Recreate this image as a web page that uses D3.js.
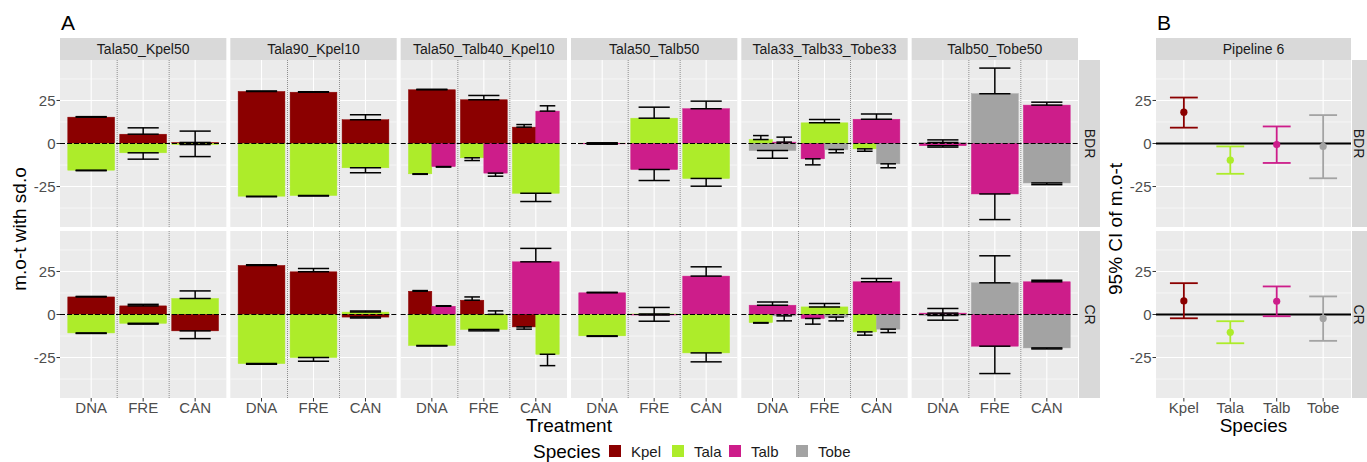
<!DOCTYPE html>
<html>
<head>
<meta charset="utf-8">
<script src="https://cdn.jsdelivr.net/npm/d3@7"></script>
<style>
body { margin: 0; background: #fff; }
text { font-family: "Liberation Sans", Arial, sans-serif; }
</style>
</head>
<body>
<script>
var facets = ["Tala50_Kpel50","Tala90_Kpel10","Tala50_Talb40_Kpel10","Tala50_Talb50","Tala33_Talb33_Tobe33","Talb50_Tobe50"];
var treatments = ["DNA","FRE","CAN"];
var regions = ["BDR","CR"];
var species = ["Kpel","Tala","Talb","Tobe"];
var yTicks = [-25, 0, 25];

// rows: region, treatment, species, mean, sd, dodge (0 alone, 1 first, 2 second)
var tala50Kpel50 = [
 ["BDR","DNA","Kpel",15.3,0.3,0], ["BDR","DNA","Tala",-15.5,0.3,0],
 ["BDR","FRE","Kpel",5.4,3.7,0],  ["BDR","FRE","Tala",-5.4,3.7,0],
 ["BDR","CAN","Kpel",0.6,6.6,0],  ["BDR","CAN","Tala",-0.6,7.0,0],
 ["CR","DNA","Kpel",10.2,0.3,0],  ["CR","DNA","Tala",-10.7,0.3,0],
 ["CR","FRE","Kpel",5.0,0.9,0],   ["CR","FRE","Tala",-5.1,0.5,0],
 ["CR","CAN","Tala",9.3,4.4,0],   ["CR","CAN","Kpel",-9.5,4.5,0]
];
var tala90Kpel10 = [
 ["BDR","DNA","Kpel",30.2,0.3,0], ["BDR","DNA","Tala",-30.6,0.3,0],
 ["BDR","FRE","Kpel",29.8,0.3,0], ["BDR","FRE","Tala",-30.2,0.3,0],
 ["BDR","CAN","Kpel",13.8,2.9,0], ["BDR","CAN","Tala",-14.1,2.9,0],
 ["CR","DNA","Kpel",28.5,0.4,0],  ["CR","DNA","Tala",-28.5,0.4,0],
 ["CR","FRE","Kpel",24.8,1.9,0],  ["CR","FRE","Tala",-25.0,2.1,0],
 ["CR","CAN","Tala",1.4,0.7,0],   ["CR","CAN","Kpel",-1.5,0.5,0]
];
var tala50Talb40Kpel10 = [
 ["BDR","DNA","Kpel",31.2,0.3,0], ["BDR","DNA","Tala",-17.6,0.3,1], ["BDR","DNA","Talb",-13.4,0.3,2],
 ["BDR","FRE","Kpel",25.4,2.5,0], ["BDR","FRE","Tala",-8.3,1.6,1],  ["BDR","FRE","Talb",-17.2,1.8,2],
 ["BDR","CAN","Kpel",9.5,1.5,1],  ["BDR","CAN","Talb",18.8,3.1,2],  ["BDR","CAN","Tala",-28.9,4.8,0],
 ["CR","DNA","Kpel",13.5,0.4,1],  ["CR","DNA","Talb",4.8,0.3,2],    ["CR","DNA","Tala",-18.0,0.3,0],
 ["CR","FRE","Kpel",8.3,1.9,1],   ["CR","FRE","Talb",0.1,2.0,2],    ["CR","FRE","Tala",-8.7,0.8,0],
 ["CR","CAN","Talb",30.6,7.8,0],  ["CR","CAN","Kpel",-7.2,1.3,1],   ["CR","CAN","Tala",-23.1,6.6,2]
];
var tala50Talb50 = [
 ["BDR","DNA","Tala",0.2,0.2,0],  ["BDR","DNA","Talb",-0.2,0.2,0],
 ["BDR","FRE","Tala",14.7,6.4,0], ["BDR","FRE","Talb",-15.1,6.4,0],
 ["BDR","CAN","Talb",20.2,4.4,0], ["BDR","CAN","Tala",-20.3,4.5,0],
 ["CR","DNA","Talb",12.6,0.3,0],  ["CR","DNA","Tala",-12.4,0.3,0],
 ["CR","FRE","Tala",0.3,3.8,0],   ["CR","FRE","Talb",-0.3,3.6,0],
 ["CR","CAN","Talb",22.3,5.4,0],  ["CR","CAN","Tala",-22.3,5.2,0]
];
var tala33Talb33Tobe33 = [
 ["BDR","DNA","Tala",2.3,2.3,1],  ["BDR","DNA","Talb",0.8,2.9,2],   ["BDR","DNA","Tobe",-4.1,4.4,0],
 ["BDR","FRE","Tala",12.0,1.9,0], ["BDR","FRE","Talb",-8.9,3.5,1],  ["BDR","FRE","Tobe",-3.5,1.9,2],
 ["BDR","CAN","Talb",14.1,3.1,0], ["BDR","CAN","Tala",-3.1,1.4,1],  ["BDR","CAN","Tobe",-11.8,2.3,2],
 ["CR","DNA","Talb",5.4,1.9,0],   ["CR","DNA","Tala",-4.7,0.3,1],   ["CR","DNA","Tobe",-0.8,2.9,2],
 ["CR","FRE","Tala",4.4,2.0,0],   ["CR","FRE","Talb",-2.3,3.3,1],   ["CR","FRE","Tobe",-1.5,2.2,2],
 ["CR","CAN","Talb",19.0,1.9,0],  ["CR","CAN","Tala",-10.1,1.9,1],  ["CR","CAN","Tobe",-8.5,2.0,2]
];
var talb50Tobe50 = [
 ["BDR","DNA","Tobe",0.6,1.5,0],  ["BDR","DNA","Talb",-1.3,0.8,0],
 ["BDR","FRE","Tobe",28.9,14.9,0],["BDR","FRE","Talb",-29.3,14.9,0],
 ["BDR","CAN","Talb",22.3,1.7,0], ["BDR","CAN","Tobe",-22.9,1.0,0],
 ["CR","DNA","Talb",0.8,2.7,0],   ["CR","DNA","Tobe",-0.6,2.7,0],
 ["CR","FRE","Tobe",18.4,15.7,0], ["CR","FRE","Talb",-18.4,15.9,0],
 ["CR","CAN","Talb",19.0,0.9,0],  ["CR","CAN","Tobe",-19.4,0.6,0]
];
var facetData = [tala50Kpel50, tala90Kpel10, tala50Talb40Kpel10, tala50Talb50, tala33Talb33Tobe33, talb50Tobe50];

// panel B: 95% CI per species
var ciMeanBDR = [18.2, -9.7, -0.6, -1.7];
var ciLowBDR  = [9.2, -17.6, -11.3, -20.2];
var ciHighBDR = [26.7, -1.7, 9.9, 16.5];
var ciMeanCR  = [7.9, -10.3, 7.7, -2.3];
var ciLowCR   = [-2.2, -16.7, -1.0, -15.3];
var ciHighCR  = [18.2, -3.9, 16.3, 10.5];

var color = d3.scaleOrdinal().domain(species).range(["#8b0000","#adec2a","#cd1d8a","#a3a3a3"]);

var svg = d3.select("body").append("svg")
	.attr("width", 1367)
	.attr("height", 462);

var fx = d3.scaleBand().domain(facets).range([60, 1078]).paddingInner(0.0235);
var fy = d3.scaleBand().domain(regions).range([60, 398]).paddingInner(0.0234);
var tx = d3.scaleLinear().domain([0.4, 3.6]).range([0, fx.bandwidth()]);
function yScale(r) {
	return d3.scaleLinear().domain([-48.5, 48.5]).range([fy(r) + fy.bandwidth(), fy(r)]);
}
var minorTicks = [-37.5, -12.5, 12.5, 37.5];

function panelBg(g, w, xs, y) {
	g.append("rect").attr("width", w).attr("height", fy.bandwidth()).attr("y", y.range()[1]).attr("fill", "#ebebeb");
	g.selectAll("line.minor").data(minorTicks).enter().append("line")
		.attr("x1", 0).attr("x2", w)
		.attr("y1", function(d) { return y(d); }).attr("y2", function(d) { return y(d); })
		.attr("stroke", "#fff").attr("stroke-width", 0.6);
	g.selectAll("line.major").data(yTicks).enter().append("line")
		.attr("x1", 0).attr("x2", w)
		.attr("y1", function(d) { return y(d); }).attr("y2", function(d) { return y(d); })
		.attr("stroke", "#fff").attr("stroke-width", 1.1);
	g.selectAll("line.vmajor").data(xs).enter().append("line")
		.attr("x1", function(d) { return d; }).attr("x2", function(d) { return d; })
		.attr("y1", y.range()[1]).attr("y2", y.range()[0])
		.attr("stroke", "#fff").attr("stroke-width", 1.1);
}

// panel A
facets.forEach(function(f, fi) {
	regions.forEach(function(r) {
		var y = yScale(r);
		var g = svg.append("g").attr("transform", "translate(" + fx(f) + ",0)");
		panelBg(g, fx.bandwidth(), [1, 2, 3].map(tx), y);
		g.selectAll("line.sep").data([1.5, 2.5]).enter().append("line")
			.attr("x1", function(d) { return tx(d); }).attr("x2", function(d) { return tx(d); })
			.attr("y1", y.range()[1]).attr("y2", y.range()[0])
			.attr("stroke", "#666").attr("stroke-width", 0.7).attr("stroke-dasharray", "1,1");

		var rows = facetData[fi].filter(function(d) { return d[0] == r; }).map(function(d) {
			var i = treatments.indexOf(d[1]) + 1;
			var x0 = d[5] == 2 ? i : i - 0.45;
			var x1 = d[5] == 1 ? i : i + 0.45;
			return {sp: d[2], mean: d[3], sd: d[4], x0: x0, x1: x1, cap: d[5] == 0 ? 0.3 : 0.15};
		});

		g.selectAll("rect.bar").data(rows).enter().append("rect")
			.attr("class", "bar")
			.attr("x", function(d) { return tx(d.x0); })
			.attr("width", function(d) { return tx(d.x1) - tx(d.x0); })
			.attr("y", function(d) { return y(Math.max(0, d.mean)); })
			.attr("height", function(d) { return Math.abs(y(d.mean) - y(0)); })
			.attr("fill", function(d) { return color(d.sp); })
			.attr("stroke", function(d) { return color(d.sp); })
			.attr("stroke-width", 0.5);

		g.append("line")
			.attr("x1", 0).attr("x2", fx.bandwidth())
			.attr("y1", y(0)).attr("y2", y(0))
			.attr("stroke", "#000").attr("stroke-width", 1.2).attr("stroke-dasharray", "5,2");

		rows.forEach(function(d) {
			var c = (d.x0 + d.x1) / 2;
			var end = d.mean + (d.mean >= 0 ? d.sd : -d.sd);
			var eg = g.append("g").attr("stroke", "#000").attr("stroke-width", 1.5);
			eg.append("line").attr("x1", tx(c)).attr("x2", tx(c)).attr("y1", y(d.mean)).attr("y2", y(end));
			[d.mean, end].forEach(function(v) {
				eg.append("line").attr("x1", tx(c - d.cap)).attr("x2", tx(c + d.cap)).attr("y1", y(v)).attr("y2", y(v));
			});
		});
	});

	// top strip
	svg.append("rect").attr("x", fx(f)).attr("y", 38).attr("width", fx.bandwidth()).attr("height", 22).attr("fill", "#d9d9d9");
	svg.append("text").attr("x", fx(f) + fx.bandwidth() / 2).attr("y", 54)
		.attr("text-anchor", "middle").attr("font-size", 14).attr("fill", "#1a1a1a").text(f);

	// x axis
	treatments.forEach(function(t, i) {
		var xx = fx(f) + tx(i + 1);
		svg.append("line").attr("x1", xx).attr("x2", xx).attr("y1", 398).attr("y2", 401.5).attr("stroke", "#333");
		svg.append("text").attr("x", xx).attr("y", 413).attr("text-anchor", "middle")
			.attr("font-size", 15).attr("fill", "#4d4d4d").text(t);
	});
});

// right strips + y axes
function rightStrips(x0, tx0) {
	regions.forEach(function(r) {
		svg.append("rect").attr("x", x0).attr("y", fy(r)).attr("width", 21).attr("height", fy.bandwidth()).attr("fill", "#d9d9d9");
		svg.append("text").attr("transform", "translate(" + tx0 + "," + (fy(r) + fy.bandwidth() / 2) + ") rotate(90)")
			.attr("text-anchor", "middle").attr("dy", "0.35em").attr("font-size", 14).attr("fill", "#1a1a1a").text(r);
	});
}
function yAxis(x0) {
	regions.forEach(function(r) {
		var y = yScale(r);
		yTicks.forEach(function(t) {
			svg.append("line").attr("x1", x0 - 3.5).attr("x2", x0).attr("y1", y(t)).attr("y2", y(t)).attr("stroke", "#333");
			svg.append("text").attr("x", x0 - 4.5).attr("y", y(t)).attr("dy", "0.35em").attr("text-anchor", "end")
				.attr("font-size", 15).attr("fill", "#4d4d4d").text(t);
		});
	});
}
rightStrips(1079, 1089.5);
yAxis(60);

// panel B
var bx = d3.scaleLinear().domain([0.4, 4.6]).range([1156, 1351]);
var ciData = {BDR: [ciMeanBDR, ciLowBDR, ciHighBDR], CR: [ciMeanCR, ciLowCR, ciHighCR]};
regions.forEach(function(r) {
	var y = yScale(r);
	var g = svg.append("g").attr("transform", "translate(1156,0)");
	panelBg(g, 195, [1, 2, 3, 4].map(function(i) { return bx(i) - 1156; }), y);
	svg.append("line").attr("x1", 1156).attr("x2", 1351).attr("y1", y(0)).attr("y2", y(0))
		.attr("stroke", "#000").attr("stroke-width", 2.2);
	var c = ciData[r];
	species.forEach(function(s, i) {
		var eg = svg.append("g").attr("stroke", color(s)).attr("stroke-width", 1.8);
		eg.append("line").attr("x1", bx(i + 1)).attr("x2", bx(i + 1)).attr("y1", y(c[1][i])).attr("y2", y(c[2][i]));
		[c[1][i], c[2][i]].forEach(function(v) {
			eg.append("line").attr("x1", bx(i + 0.7)).attr("x2", bx(i + 1.3)).attr("y1", y(v)).attr("y2", y(v));
		});
		svg.append("circle").attr("cx", bx(i + 1)).attr("cy", y(c[0][i])).attr("r", 3.6).attr("fill", color(s));
	});
});
svg.append("rect").attr("x", 1156).attr("y", 38).attr("width", 195).attr("height", 22).attr("fill", "#d9d9d9");
svg.append("text").attr("x", 1253.5).attr("y", 54).attr("text-anchor", "middle")
	.attr("font-size", 14).attr("fill", "#1a1a1a").text("Pipeline 6");
species.forEach(function(s, i) {
	svg.append("line").attr("x1", bx(i + 1)).attr("x2", bx(i + 1)).attr("y1", 398).attr("y2", 401.5).attr("stroke", "#333");
	svg.append("text").attr("x", bx(i + 1)).attr("y", 413).attr("text-anchor", "middle")
		.attr("font-size", 15).attr("fill", "#4d4d4d").text(s);
});
rightStrips(1352, 1358.5);
yAxis(1156);

// titles
svg.append("text").attr("x", 61).attr("y", 30).attr("font-size", 21).text("A");
svg.append("text").attr("x", 1157).attr("y", 30).attr("font-size", 21).text("B");
svg.append("text").attr("transform", "translate(19,229) rotate(-90)").attr("text-anchor", "middle")
	.attr("dy", "0.35em").attr("font-size", 19).text("m.o-t with sd.o");
svg.append("text").attr("transform", "translate(1115,229) rotate(-90)").attr("text-anchor", "middle")
	.attr("dy", "0.35em").attr("font-size", 19).text("95% CI of m.o-t");
svg.append("text").attr("x", 569).attr("y", 432).attr("text-anchor", "middle").attr("font-size", 19).text("Treatment");
svg.append("text").attr("x", 1253.5).attr("y", 432).attr("text-anchor", "middle").attr("font-size", 19).text("Species");

// legend
svg.append("text").attr("x", 533).attr("y", 458).attr("font-size", 19).text("Species");
var keyX = [609, 672, 729, 796];
species.forEach(function(s, i) {
	svg.append("rect").attr("x", keyX[i]).attr("y", 445).attr("width", 12).attr("height", 12).attr("fill", color(s));
	svg.append("text").attr("x", keyX[i] + 22).attr("y", 457).attr("font-size", 15).attr("fill", "#1a1a1a").text(s);
});
</script>
</body>
</html>
